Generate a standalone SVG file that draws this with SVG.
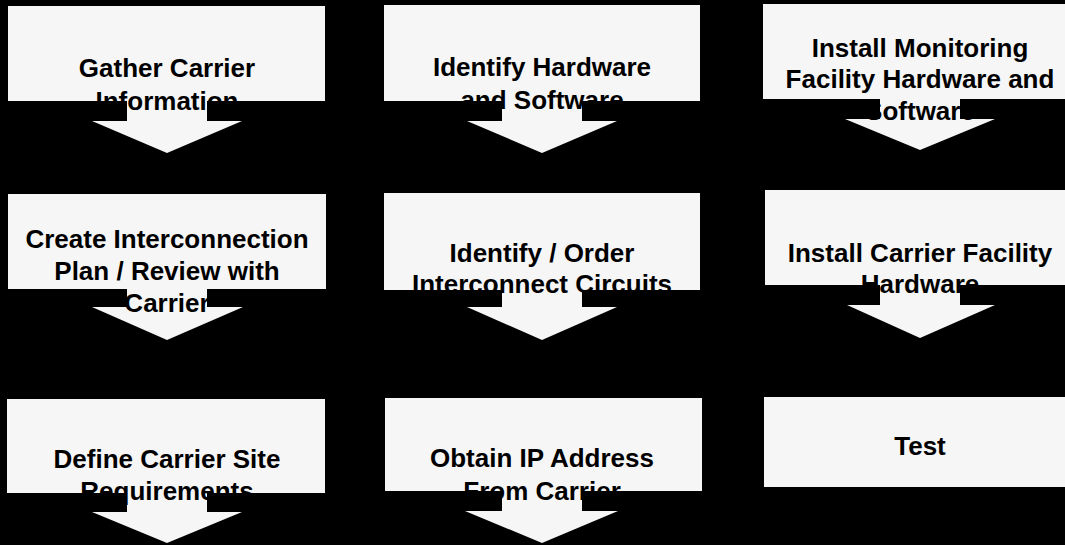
<svg xmlns="http://www.w3.org/2000/svg" width="1065" height="545" viewBox="0 0 1065 545">
<style>
.box{fill:#f6f6f6}
.arr{fill:#f6f6f6}
text{font-family:"Liberation Sans",Arial,sans-serif;font-weight:bold;font-size:26px;fill:#000;text-anchor:middle}
</style>
<rect x="0" y="0" width="1065" height="545" fill="#000"/>
<g id="connectors">
<polygon class="arr" points="127,101 207,101 207,121 242,121 167,153 92,121 127,121"/>
<polygon class="arr" points="502,101 582,101 582,121 617,121 542,153 467,121 502,121"/>
<polygon class="arr" points="880,99 960,99 960,119 995,119 920,150 845,119 880,119"/>
<polygon class="arr" points="127,289 207,289 207,307 243,307 167,340 92,307 127,307"/>
<polygon class="arr" points="502,290 582,290 582,307 617,307 542,340 467,307 502,307"/>
<polygon class="arr" points="880,285 960,285 960,305 995,305 920,338 847,305 880,305"/>
<polygon class="arr" points="127,493 207,493 207,512 242,512 167,543 92,512 127,512"/>
<polygon class="arr" points="502,491 582,491 582,511 618,511 542,543 465,511 502,511"/>
</g>
<g id="gather">
<rect class="box" x="8" y="6" width="317" height="95"/>
<text x="167" y="77">Gather Carrier</text>
<text x="167" y="110">Information</text>
</g>
<g id="identify-hw">
<rect class="box" x="384" y="5" width="316" height="96"/>
<text x="542" y="76">Identify Hardware</text>
<text x="542" y="109">and Software</text>
</g>
<g id="install-monitoring">
<rect class="box" x="763" y="4" width="310" height="95"/>
<text x="920" y="57">Install Monitoring</text>
<text x="920" y="88">Facility Hardware and</text>
<text x="920" y="120">Software</text>
</g>
<g id="create-plan">
<rect class="box" x="8" y="194" width="318" height="95"/>
<text x="167" y="248">Create Interconnection</text>
<text x="167" y="280">Plan / Review with</text>
<text x="167" y="312">Carrier</text>
</g>
<g id="order-circuits">
<rect class="box" x="384" y="193" width="316" height="97"/>
<text x="542" y="262">Identify / Order</text>
<text x="542" y="293">Interconnect Circuits</text>
</g>
<g id="install-carrier">
<rect class="box" x="765" y="190" width="310" height="95"/>
<text x="920" y="262">Install Carrier Facility</text>
<text x="920" y="293">Hardware</text>
</g>
<g id="define-site">
<rect class="box" x="7" y="399" width="318" height="94"/>
<text x="167" y="468">Define Carrier Site</text>
<text x="167" y="500">Requirements</text>
</g>
<g id="obtain-ip">
<rect class="box" x="385" y="398" width="317" height="93"/>
<text x="542" y="467">Obtain IP Address</text>
<text x="542" y="500">From Carrier</text>
</g>
<g id="test">
<rect class="box" x="764" y="397" width="310" height="90"/>
<text x="920" y="455">Test</text>
</g>
</svg>
